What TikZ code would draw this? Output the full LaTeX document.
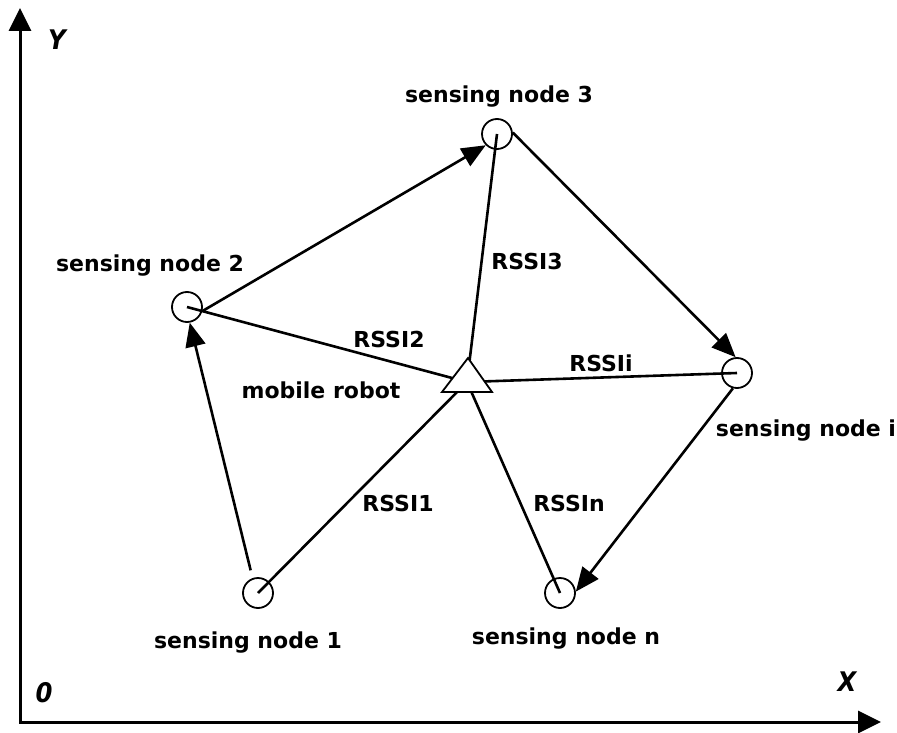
\documentclass[tikz,border=0pt]{standalone}
\usepackage{fontspec}
\setmainfont{DejaVu Sans}
\newfontfamily\axisfont{DejaVu Sans Condensed}
\usetikzlibrary{arrows.meta}
\begin{document}
\begin{tikzpicture}[x=1pt,y=-1pt,
  sensor/.style={circle, draw, line width=1.8pt, minimum size=30pt, inner sep=0pt},
  lbl/.style={font=\fontsize{22}{24}\selectfont\bfseries, inner sep=0pt},
  link/.style={line width=2.6pt},
  flow/.style={line width=2.6pt, -{Triangle[length=24pt,width=20pt]}},
  axis/.style={line width=3pt, {Triangle[length=23pt,width=22pt]}-{Triangle[length=23pt,width=22pt]}},
  axlbl/.style={font=\axisfont\bfseries\itshape\fontsize{27}{29}\selectfont, inner sep=0pt}]
\useasboundingbox (0,0) rectangle (897,733);
% axes
\coordinate (Ytip) at (20,8);
\coordinate (O) at (20,722);
\coordinate (Xtip) at (881,722);
\draw[axis] (Ytip) -- (O) -- (Xtip);
\node[axlbl] (ylab) at (57,40) {Y};
\node[axlbl] (olab) at (44,693) {0};
\node[axlbl] (xlab) at (847,682) {X};
% sensing nodes
\node[sensor] (n3) at (497,134) {};
\node[sensor] (n2) at (187,307) {};
\node[sensor] (ni) at (737,373) {};
\node[sensor] (n1) at (258,593) {};
\node[sensor] (nn) at (560,593) {};
\coordinate (robot) at (467,382);
% RSSI links
\draw[link] (robot) -- (n3.center);
\draw[link] (robot) -- (n2.center);
\draw[link] (robot) -- (ni.center);
\draw[link] (robot) -- (n1.center);
\draw[link] (robot) -- (nn.center);
% mobile robot triangle
\draw[line width=1.8pt, fill=white] (442,392) -- (468,358) -- (492,392) -- cycle;
% path arrows
\draw[flow, shorten <=8pt] (n1.110) -- (n2.-80);
\draw[flow] (n2.-15) -- (n3.225);
\draw[flow] (n3.5) -- (ni.95);
\draw[flow] (ni.255) -- (nn.5);
% labels
\node[lbl] (l3) at (499,97) {sensing node 3};
\node[lbl] (l2) at (150,266) {sensing node 2};
\node[lbl] (li) at (806,431) {sensing node i};
\node[lbl] (l1) at (248,643) {sensing node 1};
\node[lbl] (ln) at (566,639) {sensing node n};
\node[lbl] (lr) at (321,390) {mobile robot};
\node[lbl] (r2) at (389,339.5) {RSSI2};
\node[lbl] (r3) at (527,261.5) {RSSI3};
\node[lbl] (ri) at (601,363.5) {RSSIi};
\node[lbl] (r1) at (398,503.5) {RSSI1};
\node[lbl] (rn) at (569,503.5) {RSSIn};
\end{tikzpicture}
\end{document}
